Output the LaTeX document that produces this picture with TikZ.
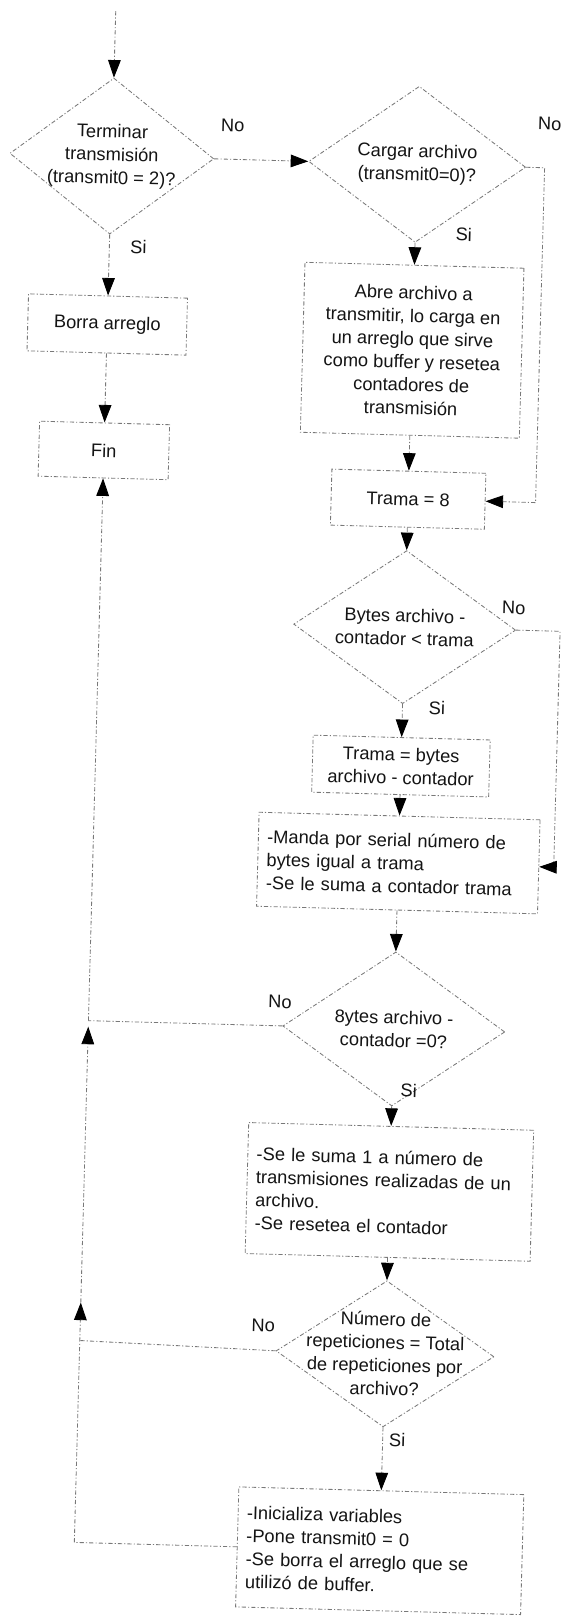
\documentclass[tikz,border=0pt]{standalone}
\usepackage{fontspec}
\setmainfont{Liberation Sans}
\usepackage{tikz}
\usetikzlibrary{shapes.geometric, arrows.meta}
\definecolor{mygray}{RGB}{120,120,120}
\definecolor{mydark}{RGB}{20,20,20}
\tikzset{
  txt/.style={font=\fontsize{13}{16.4}\selectfont, text=mydark},
  scan/.style={draw=mygray, line width=0.6pt,
    dash pattern=on 3pt off 1.5pt on 0.8pt off 1.5pt},
  box/.style={rectangle, scan, txt, align=center, inner sep=0pt},
  listbox/.style={box, align=left, inner xsep=0.22cm},
  decision/.style={diamond, scan, inner sep=0pt},
  dtext/.style={txt, align=center},
  arrow/.style={scan, -{Triangle[length=12.5pt, width=9pt, color=black]}},
  line/.style={scan},
  lbl/.style={txt, inner sep=1pt}
}

\begin{document}
\begin{tikzpicture}[x=0.025cm, y=-0.025cm]
  \fill[white] (0,0) rectangle (562,1616);
  \useasboundingbox (0,0) rectangle (562,1616);
  \begin{scope}[rotate=-1.55, transform shape]
  % Left column
  \coordinate (start) at (116,8);
  \node[decision, minimum width=5.1cm, minimum height=3.9cm,
        label={[dtext]center:{Terminar\\transmisión\\(transmit0 = 2)?}}] (term) at (116,153) {};
  \node[box, minimum width=3.975cm, minimum height=1.425cm] (borra) at (116,321.5) {Borra arreglo};
  \node[box, minimum width=3.25cm, minimum height=1.375cm] (fin) at (116,447.5) {Fin};

  % Right column
  \node[decision, minimum width=5.425cm, minimum height=3.9cm,
        label={[dtext]center:{Cargar archivo\\(transmit0=0)?}}] (cargar) at (421.5,153) {};
  \node[box, minimum width=5.475cm, minimum height=4.25cm] (abre) at (421.5,339)
    {Abre archivo a\\transmitir, lo carga en\\un arreglo que sirve\\como buffer y resetea\\contadores de\\transmisión};
  \node[box, minimum width=3.85cm, minimum height=1.4cm] (trama8) at (421.5,488) {Trama = 8};
  \node[decision, minimum width=5.55cm, minimum height=3.825cm,
        label={[dtext]center:{Bytes archivo -\\contador < trama}}] (menor) at (421.5,616) {};
  \node[box, minimum width=4.425cm, minimum height=1.425cm] (tbytes) at (421.5,755)
    {Trama = bytes\\archivo - contador};
  \node[listbox, text width=6.585cm, minimum height=2.35cm] (manda) at (421.5,852)
    {-Manda por serial número de\\bytes igual a trama\\-Se le suma a contador trama};
  \node[decision, minimum width=5.55cm, minimum height=3.85cm,
        label={[dtext]center:{8ytes archivo -\\contador =0?}}] (cero) at (421.5,1018) {};
  \node[listbox, text width=6.685cm, minimum height=3.275cm] (suma) at (421.5,1181)
    {-Se le suma 1 a número de\\transmisiones realizadas de un\\archivo.\\-Se resetea el contador};
  \node[decision, minimum width=5.45cm, minimum height=3.65cm,
        label={[dtext]center:{Número de\\repeticiones = Total\\de repeticiones por\\archivo?}}] (repet) at (421.5,1343) {};
  \node[listbox, text width=6.685cm, minimum height=3.0cm] (ini) at (421.5,1540)
    {-Inicializa variables\\-Pone transmit0 = 0\\-Se borra el arreglo que se\\utilizó de buffer.};

  % Main flow
  \draw[arrow] (start) -- (term);
  \draw[arrow] (term) -- (borra);
  \draw[arrow] (borra) -- (fin);
  \draw[arrow] (term.east) -- (cargar.west);
  \draw[arrow] (cargar) -- (abre);
  \draw[arrow] (abre) -- (trama8);
  \draw[arrow] (trama8) -- (menor);
  \draw[arrow] (menor) -- (tbytes);
  \draw[arrow] (tbytes) -- (manda);
  \draw[arrow] (manda) -- (cero);
  \draw[arrow] (cero) -- (suma);
  \draw[arrow] (suma) -- (repet);
  \draw[arrow] (repet) -- (ini);

  % Right loops
  \coordinate (cargarR) at (549,153);
  \coordinate (trama8R) at (549,488);
  \draw[arrow] (cargar.east) -- (cargarR) -- (trama8R) -- (trama8.east);
  \coordinate (menorR) at (577,616);
  \coordinate (mandaR) at (577,852);
  \draw[arrow] (menor.east) -- (menorR) -- (mandaR) -- (manda.east);

  % Left loop back to Fin
  \coordinate (jbot) at (116,1540);
  \coordinate (j5) at (116,1338);
  \coordinate (a5) at (116,1300);
  \coordinate (j4) at (116,1018);
  \coordinate (a4) at (116,1024);
  \draw[line] (ini.west) -- (jbot);
  \draw[arrow] (jbot) -- (a5);
  \draw[line] (repet.west) -- (j5);
  \draw[arrow] (a5) -- (a4);
  \draw[line] (cero.west) -- (j4);
  \draw[arrow] (j4) -- (fin);

  % Branch labels
  \node[lbl] (no1) at (236,119) {No};
  \node[lbl] (no2) at (553,109) {No};
  \node[lbl] (no3) at (530,594) {No};
  \node[lbl] (no4) at (307,994) {No};
  \node[lbl] (no5) at (299,1318) {No};
  \node[lbl] (si1) at (145,243) {Si};
  \node[lbl] (si2) at (470,222) {Si};
  \node[lbl] (si3) at (456,696) {Si};
  \node[lbl] (si4) at (438,1079) {Si};
  \node[lbl] (si5) at (436,1429) {Si};
  \end{scope}
\end{tikzpicture}
\end{document}
